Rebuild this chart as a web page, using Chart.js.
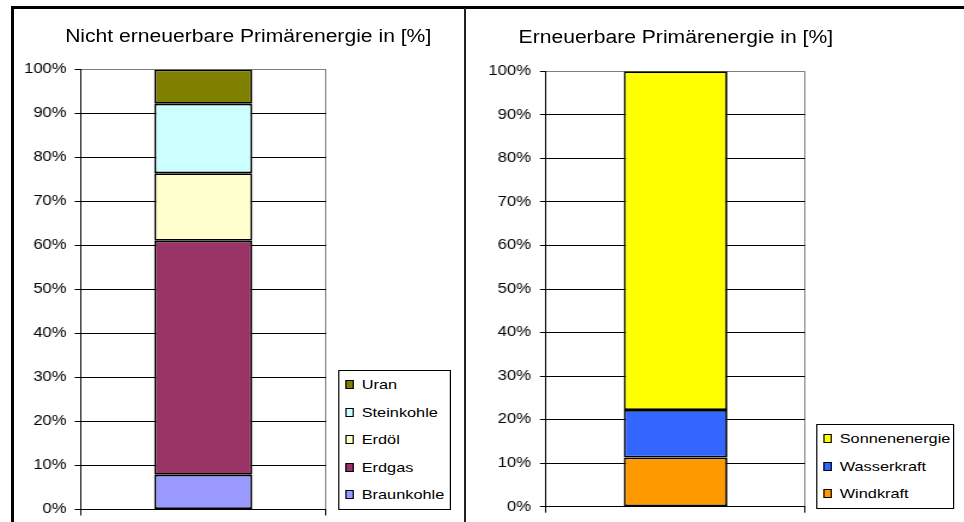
<!DOCTYPE html>
<html>
<head>
<meta charset="utf-8">
<script src="https://cdn.jsdelivr.net/npm/chart.js@4"></script>
<style>
  html, body { margin: 0; padding: 0; background: #fff; }
  body { width: 964px; height: 522px; position: relative; overflow: hidden; font-family: Arial, "Liberation Sans", sans-serif; }
  .frame-top { position: absolute; left: 11px; top: 6px; width: 953px; height: 3px; background: #000; }
  .frame-left { position: absolute; left: 11px; top: 6px; width: 3px; height: 516px; background: #000; }
  .divider { position: absolute; left: 464px; top: 8px; width: 2px; height: 514px; background: #222; }
  /* the reference is stretched sideways, so each panel is too */
  .panel { position: absolute; top: 10px; height: 512px; transform: scaleX(1.2); transform-origin: 0 0; }
  .panel canvas { position: absolute; left: 0; top: 0; }
  .title { position: absolute; top: 18px; width: 400px; text-align: center; font-size: 17.6px; line-height: 17.6px; white-space: nowrap; color: #000; }
  .legend { position: absolute; box-sizing: border-box; border: 1px solid #000; background: #fff; font-size: 13.6px; color: #000; }
  .legend .item { height: 27.5px; display: flex; align-items: center; padding-left: 4.8px; white-space: nowrap; }
  .legend .box { display: inline-block; width: 7.5px; height: 9px; box-sizing: border-box; border: 1px solid #000; margin-right: 6.5px; }
</style>
</head>
<body>
<div class="panel" style="left:13px; width:376px;">
  <canvas id="nichtChart" width="376" height="512"></canvas>
  <div class="title" style="left:-4px;">Nicht erneuerbare Primärenergie in [%]</div>
  <div class="legend" id="nichtLegend" style="left:270.8px; top:360px; width:93.9px;"></div>
</div>
<div class="panel" style="left:467px; width:414px;">
  <canvas id="erneuerbarChart" width="414" height="512"></canvas>
  <div class="title" style="left:-26px; top:19px;">Erneuerbare Primärenergie in [%]</div>
  <div class="legend" id="erneuerbarLegend" style="left:290.8px; top:414px; width:115px;"></div>
</div>
<div class="frame-top"></div>
<div class="frame-left"></div>
<div class="divider"></div>

<script>
// stacked from the bottom up
const nichtLabels = ['Braunkohle', 'Erdgas', 'Erdöl', 'Steinkohle', 'Uran'];
const nichtValues = [7.9, 53.2, 15.3, 15.8, 7.8];
const nichtColors = ['#9999FF', '#993366', '#FFFFCC', '#CCFFFF', '#808000'];

const erneuerbarLabels = ['Windkraft', 'Wasserkraft', 'Sonnenenergie'];
const erneuerbarValues = [11.3, 10.9, 77.8];
const erneuerbarColors = ['#FF9900', '#3366FF', '#FFFF00'];

const yMin = 0;
const yMax = 100;
const yStep = 10;

function drawStack(canvasId, legendId, labels, values, colors, axisWidth, labelGap, pad) {
    const chart = new Chart(document.getElementById(canvasId), {
        type: 'bar',
        data: {
            labels: [''],
            datasets: labels.map((name, i) => ({
                label: name,
                data: [values[i]],
                backgroundColor: colors[i],
                borderColor: '#000',
                borderWidth: 1.75,
                borderSkipped: false,
                barPercentage: 0.4,
                categoryPercentage: 1
            }))
        },
        options: {
            responsive: false,
            animation: false,
            layout: { padding: pad },
            plugins: {
                legend: { display: false },
                tooltip: { enabled: false }
            },
            scales: {
                x: {
                    stacked: true,
                    offset: true,
                    grid: { offset: true, color: '#808080', tickColor: '#000', tickLength: 6 },
                    border: { color: '#000' },
                    ticks: { display: false }
                },
                y: {
                    stacked: true,
                    min: yMin,
                    max: yMax,
                    ticks: {
                        stepSize: yStep,
                        padding: labelGap,
                        color: '#000',
                        font: { family: 'Arial, "Liberation Sans"', size: 13.9 },
                        callback: (v) => v + '%'
                    },
                    grid: {
                        color: (ctx) => (ctx.tick && ctx.tick.value === yMax ? '#808080' : '#000'),
                        tickColor: '#000',
                        tickLength: 5
                    },
                    border: { color: '#000' },
                    afterFit: (scale) => {
                        // fixed axis width, and let the layout padding alone place the plot
                        scale.width = axisWidth;
                        scale.paddingTop = 0;
                        scale.paddingBottom = 0;
                    }
                }
            }
        }
    });

    const legend = document.getElementById(legendId);
    chart.data.datasets.slice().reverse().forEach(ds => {
        const item = document.createElement('div');
        item.className = 'item';
        const box = document.createElement('span');
        box.className = 'box';
        box.style.background = ds.backgroundColor;
        const text = document.createElement('span');
        text.textContent = ds.label;
        item.append(box, text);
        legend.appendChild(item);
    });
    return chart;
}

drawStack('nichtChart', 'nichtLegend', nichtLabels, nichtValues, nichtColors,
    56.4, 6.7, { left: 0, right: 115.2, top: 59.5, bottom: 6.5 });
drawStack('erneuerbarChart', 'erneuerbarLegend', erneuerbarLabels, erneuerbarValues, erneuerbarColors,
    65.8, 7.5, { left: 0, right: 132.3, top: 61.3, bottom: 9.3 });
</script>
</body>
</html>
